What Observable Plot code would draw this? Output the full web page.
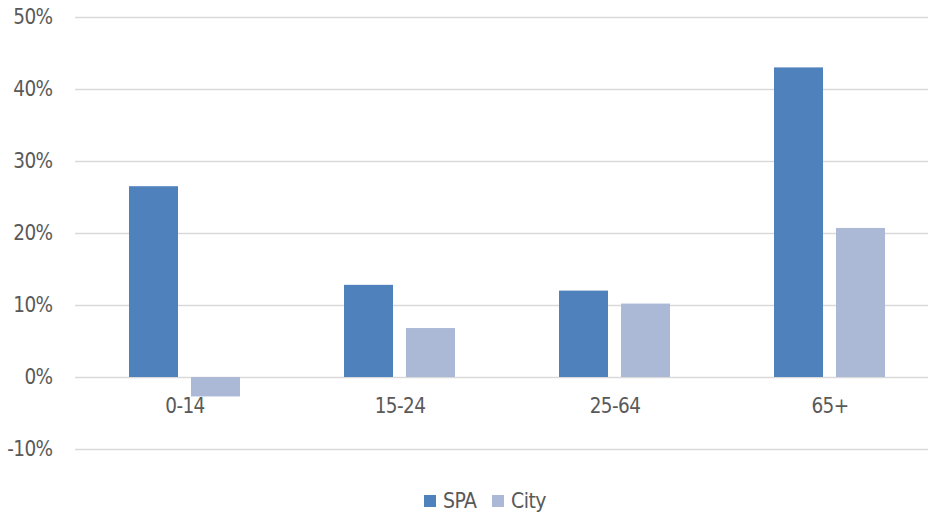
<!DOCTYPE html>
<html>
<head>
<meta charset="utf-8">
<script src="https://cdn.jsdelivr.net/npm/d3@7"></script>
<script src="https://cdn.jsdelivr.net/npm/@observablehq/plot@0.6"></script>
<style>
  html, body { margin: 0; padding: 0; background: #fff; }
  body { width: 928px; height: 514px; overflow: hidden; }
  #legend { position: relative; height: 34px; font-family: "Liberation Sans Narrow", "DejaVu Sans Condensed", "Roboto", sans-serif; font-stretch: condensed; font-size: 21px; letter-spacing: -0.5px; color: #595959; }
  #legend .item { position: absolute; top: 4px; height: 34px; display: flex; align-items: center; }
  #legend .sw { width: 12px; height: 12px; display: inline-block; margin-right: 7px; }
  #chart svg text { letter-spacing: -0.6px; }
</style>
</head>
<body>
<div id="chart"></div>
<div id="legend"></div>
<script>
const categories = ["0-14", "15-24", "25-64", "65+"];
const seriesNames = ["SPA", "City"];
const spaValues = [26.5, 12.8, 12.0, 43.0];
const cityValues = [-2.7, 6.8, 10.2, 20.7];
const yTicks = [-10, 0, 10, 20, 30, 40, 50];
const colors = ["#4f81bd", "#abb9d7"];

const spaData = categories.map((c, i) => ({cat: c, series: "SPA", value: spaValues[i]}));
const cityData = categories.map((c, i) => ({cat: c, series: "City", value: cityValues[i]}));

const font = `"Liberation Sans Narrow", "DejaVu Sans Condensed", "Roboto", sans-serif`;
const barInset = 62;

const chart = Plot.plot({
  width: 928,
  height: 480,
  marginLeft: 75,
  marginRight: 0,
  marginTop: 17,
  marginBottom: 31,
  style: {fontFamily: font, fontSize: "21px", color: "#595959", background: "#fff"},
  x: {domain: categories, paddingInner: 0.4854, paddingOuter: 0.22, align: 0.551, axis: null},
  y: {domain: [-10, 50], ticks: yTicks, axis: null},
  marks: [
    Plot.gridY(yTicks, {stroke: "#d9d9d9", strokeOpacity: 1, strokeWidth: 1.5}),
    Plot.axisY(yTicks, {tickSize: 0, tickPadding: 23, tickFormat: d => d + "%", fill: "#595959", fontSize: 20.5, fontFamily: font, label: null}),
    Plot.barY(spaData, {x: "cat", y: "value", fill: colors[0], insetRight: barInset}),
    Plot.barY(cityData, {x: "cat", y: "value", fill: colors[1], insetLeft: barInset}),
    Plot.text(categories, {x: d => d, y: () => 0, dy: 29, text: d => d, fill: "#595959", fontSize: 20.5, fontFamily: font})
  ]
});
document.getElementById("chart").appendChild(chart);

const legend = document.getElementById("legend");
const positions = [424, 492];
seriesNames.forEach((name, i) => {
  const item = document.createElement("div");
  item.className = "item";
  item.style.left = positions[i] + "px";
  const sw = document.createElement("span");
  sw.className = "sw";
  sw.style.background = colors[i];
  item.appendChild(sw);
  item.appendChild(document.createTextNode(name));
  legend.appendChild(item);
});
</script>
</body>
</html>
